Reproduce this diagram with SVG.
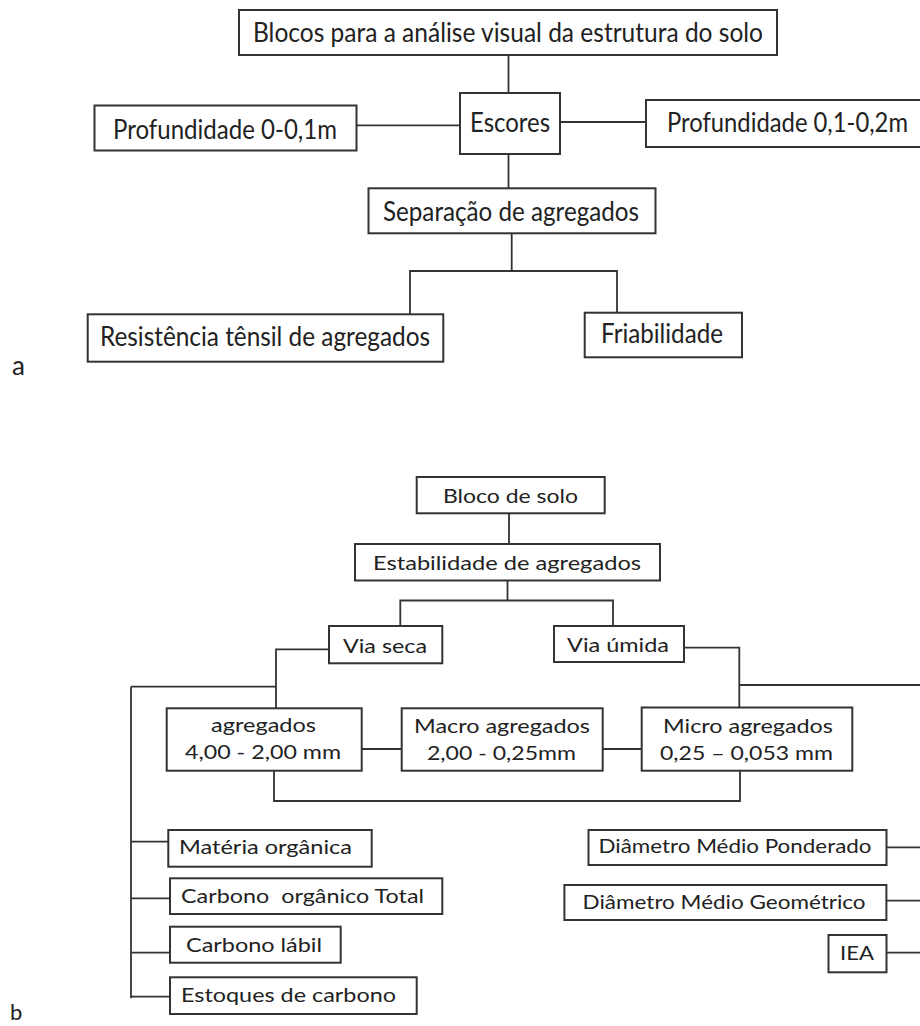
<svg xmlns="http://www.w3.org/2000/svg" width="920" height="1026" viewBox="0 0 920 1026">
<style>
.box{fill:#fff;stroke:#333;stroke-width:2}
.ln{fill:none;stroke:#333;stroke-width:1.8}
.ta{font-family:Lato,"Liberation Sans",sans-serif;font-size:26px;fill:#222}
.tb{font-family:Lato,"Liberation Sans",sans-serif;font-size:20px;fill:#222}
</style>
<rect width="920" height="1026" fill="#fff"/>
<g id="connectors">
<path class="ln" d="M508.5 55 V93"/>
<path class="ln" d="M356.5 125.3 H460"/>
<path class="ln" d="M560 122 H646"/>
<path class="ln" d="M508.5 154 V188.3"/>
<path class="ln" d="M511.7 233.3 V271"/>
<path class="ln" d="M410 314.3 V271 H617 V312.7"/>
<path class="ln" d="M509 513.3 V544"/>
<path class="ln" d="M507.5 580.5 V600.5"/>
<path class="ln" d="M400.3 626 V600.5 H613 V626"/>
<path class="ln" d="M329 649.3 H276 V708.3"/>
<path class="ln" d="M131 686.7 H276"/>
<path class="ln" d="M131 686.7 V998.3"/>
<path class="ln" d="M131 841.7 H168.3 M131 898.3 H170 M131 952.7 H170 M131 996.7 H170"/>
<path class="ln" d="M361.7 749 H401.7 M602.6 749 H641.7"/>
<path class="ln" d="M274 770.7 V801 H740 V770.7"/>
<path class="ln" d="M684 647.7 H739.3 V707.5"/>
<path class="ln" d="M739.3 685 H920"/>
<path class="ln" d="M886.6 847.3 H920 M886.6 900.7 H920 M886.6 952.7 H920"/>
</g>
<g id="n_top"><rect class="box" x="239" y="10" width="538" height="45"/><text class="ta" x="253" y="42" textLength="510" lengthAdjust="spacingAndGlyphs">Blocos para a análise visual da estrutura do solo</text></g>
<g id="n_escores"><rect class="box" x="460" y="93" width="100" height="61"/><text class="ta" x="470" y="132" textLength="80" lengthAdjust="spacingAndGlyphs">Escores</text></g>
<g id="n_prof1"><rect class="box" x="94.5" y="105.5" width="262" height="45"/><text class="ta" x="113" y="139" textLength="224" lengthAdjust="spacingAndGlyphs">Profundidade 0-0,1m</text></g>
<g id="n_prof2"><rect class="box" x="646" y="100" width="275" height="47"/><text class="ta" x="667" y="132" textLength="241" lengthAdjust="spacingAndGlyphs">Profundidade 0,1-0,2m</text></g>
<g id="n_sep"><rect class="box" x="368.5" y="188.3" width="287" height="45"/><text class="ta" x="383" y="221" textLength="256" lengthAdjust="spacingAndGlyphs">Separação de agregados</text></g>
<g id="n_res"><rect class="box" x="87.7" y="314.3" width="355.6" height="47.4"/><text class="ta" x="100" y="346" textLength="330" lengthAdjust="spacingAndGlyphs">Resistência tênsil de agregados</text></g>
<g id="n_fri"><rect class="box" x="584.7" y="312.7" width="157.3" height="44.6"/><text class="ta" x="601" y="343" textLength="122" lengthAdjust="spacingAndGlyphs">Friabilidade</text></g>
<g id="label_a"><text class="ta" x="12" y="375">a</text></g>
<g id="n_bloco"><rect class="box" x="416.7" y="477" width="188" height="36.3"/><text class="tb" x="443" y="503" textLength="135" lengthAdjust="spacingAndGlyphs">Bloco de solo</text></g>
<g id="n_estab"><rect class="box" x="355" y="544" width="305" height="36.5"/><text class="tb" x="373" y="570" textLength="268" lengthAdjust="spacingAndGlyphs">Estabilidade de agregados</text></g>
<g id="n_viaseca"><rect class="box" x="329" y="626" width="113.3" height="37.3"/><text class="tb" x="343" y="653" textLength="84" lengthAdjust="spacingAndGlyphs">Via seca</text></g>
<g id="n_viaumida"><rect class="box" x="554" y="626" width="130" height="36"/><text class="tb" x="567" y="652" textLength="102" lengthAdjust="spacingAndGlyphs">Via úmida</text></g>
<g id="n_agreg"><rect class="box" x="166.7" y="708.3" width="195" height="62.4"/><text class="tb" x="211" y="732" textLength="105" lengthAdjust="spacingAndGlyphs">agregados</text><text class="tb" x="185" y="759" textLength="156" lengthAdjust="spacingAndGlyphs">4,00 - 2,00 mm</text></g>
<g id="n_macro"><rect class="box" x="401.7" y="708.3" width="201" height="62.4"/><text class="tb" x="414" y="733" textLength="176" lengthAdjust="spacingAndGlyphs">Macro agregados</text><text class="tb" x="427" y="760" textLength="149" lengthAdjust="spacingAndGlyphs">2,00 - 0,25mm</text></g>
<g id="n_micro"><rect class="box" x="641.7" y="707.5" width="210.6" height="63.2"/><text class="tb" x="663" y="733" textLength="170" lengthAdjust="spacingAndGlyphs">Micro agregados</text><text class="tb" x="660" y="760" textLength="173" lengthAdjust="spacingAndGlyphs">0,25 – 0,053 mm</text></g>
<g id="n_materia"><rect class="box" x="168.3" y="830" width="203.4" height="36.7"/><text class="tb" x="179" y="854" textLength="173" lengthAdjust="spacingAndGlyphs">Matéria orgânica</text></g>
<g id="n_cot"><rect class="box" x="170" y="878.3" width="272.3" height="35.7"/><text class="tb" x="181" y="903" textLength="243" lengthAdjust="spacingAndGlyphs" xml:space="preserve">Carbono  orgânico Total</text></g>
<g id="n_clabil"><rect class="box" x="170" y="926.7" width="170.7" height="36"/><text class="tb" x="186" y="952" textLength="136" lengthAdjust="spacingAndGlyphs">Carbono lábil</text></g>
<g id="n_estoques"><rect class="box" x="170" y="977.3" width="246.7" height="36.7"/><text class="tb" x="181" y="1002" textLength="215" lengthAdjust="spacingAndGlyphs">Estoques de carbono</text></g>
<g id="n_dmp"><rect class="box" x="588.5" y="830" width="298" height="35"/><text class="tb" x="598.5" y="853" textLength="273" lengthAdjust="spacingAndGlyphs">Diâmetro Médio Ponderado</text></g>
<g id="n_dmg"><rect class="box" x="564.4" y="885" width="322" height="35"/><text class="tb" x="582.6" y="909" textLength="283" lengthAdjust="spacingAndGlyphs">Diâmetro Médio Geométrico</text></g>
<g id="n_iea"><rect class="box" x="828.5" y="935" width="58" height="37.3"/><text class="tb" x="840" y="960" textLength="34" lengthAdjust="spacingAndGlyphs">IEA</text></g>
<g id="label_b"><text class="tb" x="10" y="1020" style="font-size:22px">b</text></g>
</svg>
